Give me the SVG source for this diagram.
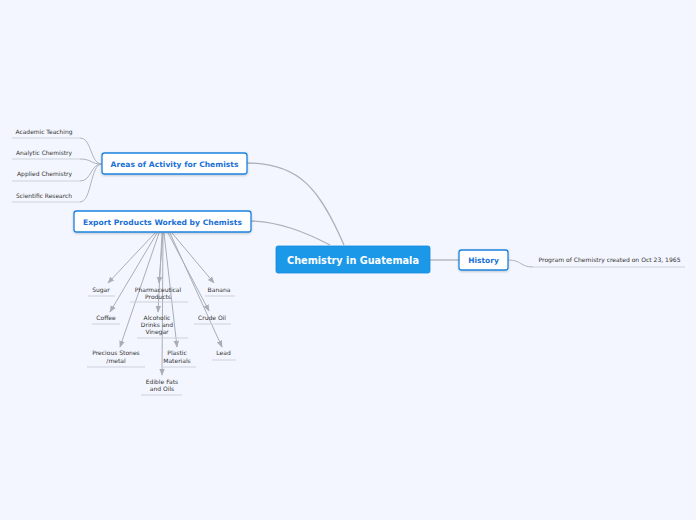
<svg xmlns="http://www.w3.org/2000/svg" width="696" height="520" viewBox="0 0 696 520">
<style>
.leaf{font-family:"DejaVu Sans",Verdana,sans-serif;font-size:6px;fill:#333;text-anchor:middle}
.sub{fill:#fff;stroke:#1d82e0;stroke-width:1.3}
.subt{font-family:"DejaVu Sans",Verdana,sans-serif;font-size:7.5px;font-weight:bold;fill:#1a70d6;text-anchor:middle}
.c{fill:none;stroke:#b0b4be;stroke-width:1}
.m{fill:none;stroke:#acb0b8;stroke-width:1.3}
.ul{fill:none;stroke:#cdd1d9;stroke-width:1}
.a{fill:none;stroke:#a9adb6;stroke-width:1;marker-end:url(#ah)}
</style>
<defs>
<marker id="ah" viewBox="0 0 10 10" refX="9" refY="5" markerWidth="7" markerHeight="7" markerUnits="userSpaceOnUse" orient="auto">
<path d="M0,1 L10,5 L0,9 Z" fill="#a9adb6"/>
</marker>
<filter id="sh" x="-10%" y="-20%" width="120%" height="150%">
<feDropShadow dx="0" dy="1" stdDeviation="0.8" flood-color="#000" flood-opacity="0.2"/>
</filter>
</defs>
<rect width="696" height="520" fill="#f3f6fe"/>
<g id="connectors">
<path class="m" d="M247,163 C300,163 320,190 344,245"/>
<path class="m" d="M251,221 C280,222 305,232 330,245"/>
<path class="m" d="M430,260 L459,260"/>
<path class="c" d="M508,260 C522,260 520,267 533,267"/>
<path class="c" d="M102,164 C90,164 92,138 80,138"/>
<path class="c" d="M102,164 C90,164 92,159 80,159"/>
<path class="c" d="M102,164 C90,164 92,181 80,181"/>
<path class="c" d="M102,164 C90,164 92,202 80,202"/>
<path class="a" d="M155,233 L108,283"/>
<path class="a" d="M163,233 L159,283"/>
<path class="a" d="M172,233 L214,283"/>
<path class="a" d="M157,233 L110,312"/>
<path class="a" d="M162,233 L158,312"/>
<path class="a" d="M168,233 L209,311"/>
<path class="a" d="M159,233 L120,347"/>
<path class="a" d="M164,233 L177,347"/>
<path class="a" d="M170,233 L222,347"/>
<path class="a" d="M163,233 L162,375"/>
</g>
<g id="central">
<rect x="276" y="246" width="154" height="27" rx="2" fill="#1b98e8" stroke="#1489dc" stroke-width="0.8"/>
<text x="353" y="264" font-family="'DejaVu Sans',Verdana,sans-serif" font-size="10.5" font-weight="bold" fill="#fff" text-anchor="middle" textLength="132" lengthAdjust="spacingAndGlyphs">Chemistry in Guatemala</text>
</g>
<g id="areas">
<rect class="sub" x="102" y="153" width="145" height="21" rx="2.5" filter="url(#sh)"/>
<text class="subt" x="174.5" y="166.5" textLength="128" lengthAdjust="spacingAndGlyphs">Areas of Activity for Chemists</text>
</g>
<g id="export">
<rect class="sub" x="74" y="211" width="177" height="21" rx="2.5" filter="url(#sh)"/>
<text class="subt" x="162.5" y="224.5" textLength="159" lengthAdjust="spacingAndGlyphs">Export Products Worked by Chemists</text>
</g>
<g id="history">
<rect class="sub" x="459" y="250" width="49" height="20" rx="2.5" filter="url(#sh)"/>
<text class="subt" x="483.5" y="263">History</text>
</g>
<g id="history-leaf">
<text class="leaf" x="609.5" y="262" textLength="142" lengthAdjust="spacingAndGlyphs">Program of Chemistry created on Oct 23, 1965</text>
<path class="ul" d="M533,267 L685,267"/>
</g>
<g id="academic"><text class="leaf" x="44" y="134" textLength="57" lengthAdjust="spacingAndGlyphs">Academic Teaching</text><path class="ul" d="M12,138 L80,138"/></g>
<g id="analytic"><text class="leaf" x="44" y="155" textLength="56" lengthAdjust="spacingAndGlyphs">Analytic Chemistry</text><path class="ul" d="M12,159 L80,159"/></g>
<g id="applied"><text class="leaf" x="44.5" y="176" textLength="55" lengthAdjust="spacingAndGlyphs">Applied Chemistry</text><path class="ul" d="M12,181 L80,181"/></g>
<g id="scientific"><text class="leaf" x="44" y="198" textLength="56" lengthAdjust="spacingAndGlyphs">Scientific Research</text><path class="ul" d="M12,202 L80,202"/></g>
<g id="sugar"><text class="leaf" x="101" y="292">Sugar</text><path class="ul" d="M88,296 L115,296"/></g>
<g id="pharma"><text class="leaf" x="158" y="292">Pharmaceutical</text><text class="leaf" x="158" y="299">Products</text><path class="ul" d="M130,302 L188,302"/></g>
<g id="banana"><text class="leaf" x="219" y="292">Banana</text><path class="ul" d="M205,296 L235,296"/></g>
<g id="coffee"><text class="leaf" x="106" y="320">Coffee</text><path class="ul" d="M92,324 L120,324"/></g>
<g id="alcohol"><text class="leaf" x="157" y="320">Alcoholic</text><text class="leaf" x="157" y="327">Drinks and</text><text class="leaf" x="157" y="334">Vinegar</text><path class="ul" d="M137,338 L188,338"/></g>
<g id="crude"><text class="leaf" x="212" y="320">Crude Oil</text><path class="ul" d="M194,324 L231,324"/></g>
<g id="stones"><text class="leaf" x="116" y="355">Precious Stones</text><text class="leaf" x="116" y="363">/metal</text><path class="ul" d="M87,367 L145,367"/></g>
<g id="plastic"><text class="leaf" x="177" y="355">Plastic</text><text class="leaf" x="177" y="363">Materials</text><path class="ul" d="M162,367 L196,367"/></g>
<g id="lead"><text class="leaf" x="223.5" y="355">Lead</text><path class="ul" d="M212,360 L236,360"/></g>
<g id="fats"><text class="leaf" x="162" y="384">Edible Fats</text><text class="leaf" x="162" y="391">and Oils</text><path class="ul" d="M141,395 L182,395"/></g>
</svg>
